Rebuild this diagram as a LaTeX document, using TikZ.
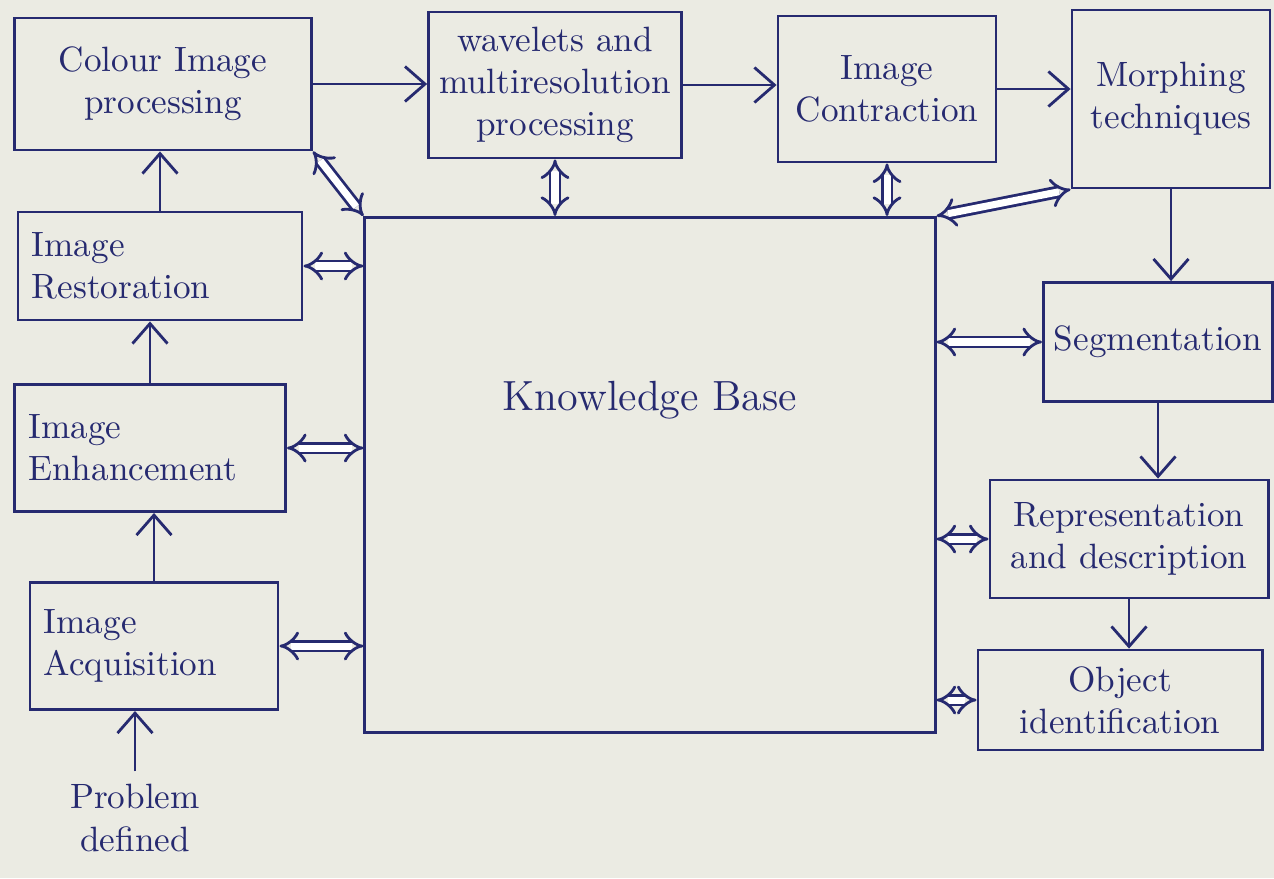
\documentclass[tikz,border=0pt]{standalone}
\usetikzlibrary{arrows.meta}
\definecolor{ink}{RGB}{38,42,112}
\definecolor{paper}{RGB}{235,235,227}
\begin{document}
\begin{tikzpicture}[x=0.01cm, y=-0.01cm, color=ink, line width=0.8pt, font=\normalsize,
    box/.style={draw, rectangle, align=center, inner sep=3pt},
    leftbox/.style={draw, rectangle, align=left, inner sep=0.14cm},
    flow/.style={-{Straight Barb[length=2mm,width=3.5mm]}},
    kblink/.style={double, double distance=2pt, {Implies}-{Implies}}]
    \fill[paper] (0,0) rectangle (1274,878);
    \useasboundingbox (0,0) rectangle (1274,878);
    \node[box, minimum width=2.97cm, minimum height=1.32cm] (colour) at (163,84) {Colour Image\\processing};
    \node[box, minimum width=2.45cm, minimum height=1.46cm] (wave) at (555,85) {wavelets and\\multiresolution\\processing};
    \node[box, minimum width=2.18cm, minimum height=1.46cm] (contr) at (887,89) {Image\\Contraction};
    \node[box, minimum width=1.98cm, minimum height=1.78cm] (morph) at (1171,99) {Morphing\\techniques};
    \node[leftbox, text width=2.56cm, minimum height=1.08cm] (resto) at (160,266) {Image\\Restoration};
    \node[leftbox, text width=2.43cm, minimum height=1.27cm] (enh) at (150,448) {Image\\Enhancement};
    \node[leftbox, text width=2.2cm, minimum height=1.27cm] (acq) at (154,646) {Image\\Acquisition};
    \node[align=center] (prob) at (135,818) {Problem\\defined};
    \node[draw, rectangle, minimum width=5.7cm, minimum height=5.15cm,
        label={[font=\large, yshift=0.75cm]center:Knowledge Base}] (kb) at (650,475) {};
    \node[box, minimum width=2.2cm, minimum height=1.19cm] (seg) at (1158,342) {Segmentation};
    \node[box, minimum width=2.78cm, minimum height=1.18cm] (rep) at (1129,539) {Representation\\and description};
    \node[box, minimum width=2.84cm, minimum height=1cm] (obj) at (1120,700) {Object\\identification};
    \draw[flow] (colour.east) -- (colour.east -| wave.west);
    \draw[flow] (wave.east) -- (wave.east -| contr.west);
    \draw[flow] (contr.east) -- (contr.east -| morph.west);
    \draw[flow] (morph.south) -- (morph.south |- seg.north);
    \draw[flow] (seg.south) -- (seg.south |- rep.north);
    \draw[flow] (rep.south) -- (rep.south |- obj.north);
    \draw[flow] (prob.north) -- (prob.north |- acq.south);
    \draw[flow] (acq.north) -- (acq.north |- enh.south);
    \draw[flow] (enh.north) -- (enh.north |- resto.south);
    \draw[flow] (resto.north) -- (resto.north |- colour.south);
    \draw[kblink] (colour.south east) -- (kb.north west);
    \draw[kblink] (resto.east) -- (resto.east -| kb.west);
    \draw[kblink] (enh.east) -- (enh.east -| kb.west);
    \draw[kblink] (acq.east) -- (acq.east -| kb.west);
    \draw[kblink] (wave.south) -- (wave.south |- kb.north);
    \draw[kblink] (contr.south) -- (contr.south |- kb.north);
    \draw[kblink] (kb.north east) -- (morph.south west);
    \draw[kblink] (seg.west -| kb.east) -- (seg.west);
    \draw[kblink] (rep.west -| kb.east) -- (rep.west);
    \draw[kblink] (obj.west -| kb.east) -- (obj.west);
\end{tikzpicture}
\end{document}
